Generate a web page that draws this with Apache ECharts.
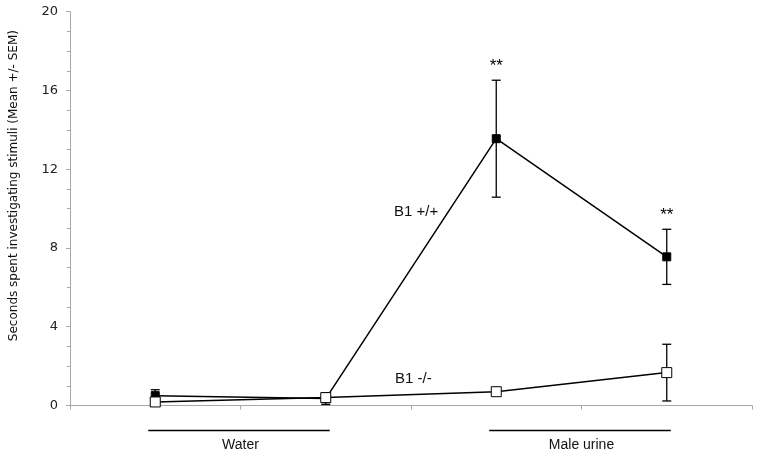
<!DOCTYPE html>
<html>
<head>
<meta charset="utf-8">
<script src="https://cdn.jsdelivr.net/npm/echarts@6/dist/echarts.min.js"></script>
<style>html,body{margin:0;padding:0;background:#fff}#c{width:758px;height:460px}</style>
</head>
<body>
<div id="c"></div>
<script>
// ---- data ----
var xPositions = [0.5, 1.5, 2.5, 3.5];           // four measurement points
var wtMean = [0.5, 0.35, 13.55, 7.55];            // B1 +/+
var wtSem  = [0.3, 0.3, 2.97, 1.4];
var koMean = [0.18, 0.4, 0.7, 1.67];              // B1 -/-
var koSem  = [0.12, 0.25, 0.0, 1.44];
var wtSig  = ['', '', '**', '**'];
var groupNames = ['Water', 'Male urine'];
var yTicks = [0, 4, 8, 12, 16, 20];
var yTitle = 'Seconds spent investigating stimuli (Mean +/- SEM)';
var seriesNames = ['B1 +/+', 'B1 -/-'];

function pairs(xs, ys){ return xs.map(function(x,i){ return [x, ys[i]]; }); }
function errData(xs, m, s, sig){ return xs.map(function(x,i){ return [x, m[i]-s[i], m[i]+s[i], sig ? sig[i] : '']; }); }

function errRender(params, api){
  var x = api.value(0), lo = api.value(1), hi = api.value(2);
  var pLo = api.coord([x, lo]), pHi = api.coord([x, hi]);
  var w = 4.5;
  var st = {stroke:'#000', lineWidth:1.3};
  return {type:'group', children:[
    {type:'line', shape:{x1:pLo[0], y1:pLo[1], x2:pHi[0], y2:pHi[1]}, style:st},
    {type:'line', shape:{x1:pLo[0]-w, y1:pLo[1], x2:pLo[0]+w, y2:pLo[1]}, style:st},
    {type:'line', shape:{x1:pHi[0]-w, y1:pHi[1], x2:pHi[0]+w, y2:pHi[1]}, style:st},
    {type:'text', x:pHi[0], y:pHi[1]-5, style:{text:api.value(3) || '', fill:'#000', font:'17px "Liberation Sans"', align:'center', verticalAlign:'bottom'}}
  ]};
}

// group brackets below axis: group g spans points 2g and 2g+1
var groupData = groupNames.map(function(n, g){ return [xPositions[2*g], xPositions[2*g+1], n]; });
function groupRender(params, api){
  var a = api.coord([api.value(0), 0]), b = api.coord([api.value(1), 0]);
  var y = a[1] + 25;
  return {type:'group', children:[
    {type:'line', shape:{x1:a[0]-7, y1:y, x2:b[0]+4, y2:y}, style:{stroke:'#000', lineWidth:1.5}},
    {type:'text', x:(a[0]+b[0])/2, y:y+15, style:{text:groupNames[params.dataIndex], fill:'#111', font:'14px "Liberation Sans"', align:'center', verticalAlign:'middle'}}
  ]};
}

var chart = echarts.init(document.getElementById('c'));
chart.setOption({
  animation:false,
  grid:{left:70, right:6, top:11.7, bottom:54.5, containLabel:false, outerBoundsMode:'none'},
  xAxis:{type:'value', min:0, max:4, interval:1,
    axisLine:{show:true, lineStyle:{color:'#a8a8a8'}},
    axisTick:{show:true, inside:false, length:4, lineStyle:{color:'#a8a8a8'}},
    axisLabel:{show:false}, splitLine:{show:false}},
  yAxis:{type:'value', min:yTicks[0], max:yTicks[yTicks.length-1], interval:yTicks[1]-yTicks[0],
    name:yTitle, nameLocation:'middle', nameGap:50,
    nameTextStyle:{fontFamily:'DejaVu Sans', fontSize:12, color:'#111', padding:[0,0,0,46]},
    axisLine:{show:true, lineStyle:{color:'#a8a8a8'}},
    axisTick:{show:true, length:4, lineStyle:{color:'#a8a8a8'}},
    minorTick:{show:true, splitNumber:4, length:3, lineStyle:{color:'#a8a8a8'}},
    axisLabel:{margin:12, fontFamily:'DejaVu Sans', fontSize:13, color:'#222'},
    splitLine:{show:false}},
  graphic:[
    {type:'text', left:394, top:204, style:{text:seriesNames[0], font:'15px "Liberation Sans"', fill:'#111'}},
    {type:'text', left:395, top:371, style:{text:seriesNames[1], font:'15px "Liberation Sans"', fill:'#111'}}
  ],
  series:[
    {type:'custom', renderItem:errRender, data:errData(xPositions, wtMean, wtSem, wtSig), z:1, silent:true},
    {type:'custom', renderItem:errRender, data:errData(xPositions, koMean, koSem, null), z:1, silent:true},
    {type:'custom', renderItem:groupRender, data:groupData, clip:false, silent:true},
    {name:seriesNames[0], type:'line', data:pairs(xPositions, wtMean), symbol:'rect', symbolSize:8,
      lineStyle:{color:'#000', width:1.5}, itemStyle:{color:'#000', borderColor:'#000', borderWidth:1}, z:3},
    {name:seriesNames[1], type:'line', data:pairs(xPositions, koMean), symbol:'rect', symbolSize:10,
      lineStyle:{color:'#000', width:1.5}, itemStyle:{color:'#fff', borderColor:'#000', borderWidth:1}, z:4}
  ]
});
</script>
</body>
</html>
